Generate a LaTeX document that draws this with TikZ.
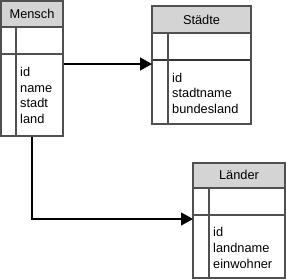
\documentclass[tikz,border=0pt]{standalone}
\usepackage{fontspec}
\setmainfont{Liberation Sans}
\usetikzlibrary{arrows.meta,calc}
\definecolor{bordergray}{HTML}{505050}
\definecolor{headgray}{HTML}{D4D4D4}
\begin{document}
\begin{tikzpicture}[x=1pt,y=-1pt,
  tbl/.style={draw=bordergray, line width=1.2pt, fill=white, anchor=north west, inner sep=0pt},
  hdr/.style={fill=headgray},
  rule/.style={draw=bordergray, line width=1.2pt},
  sep/.style={draw=black!80, line width=1.2pt},
  txt/.style={font=\fontsize{12.8}{15}\selectfont, inner sep=0pt, anchor=base west},
  htxt/.style={font=\fontsize{12.8}{15}\selectfont, inner sep=0pt},
  conn/.style={draw=black, line width=1.5pt, -{Triangle[length=12pt,width=13pt]}}]
\useasboundingbox (0,0) rectangle (286,279);
% Mensch
\node[tbl, minimum width=62pt, minimum height=135pt] (mensch) at (1,1) {};
\fill[hdr] (1,1) rectangle (63,27);
\draw[rule] (1,27) -- (63,27);
\draw[rule] (1,54) -- (63,54);
\draw[rule] (16,27) -- (16,136);
\draw[rule] (1,1) rectangle (63,136);
\node[htxt] (menschT) at (32,14) {Mensch};
\node[txt] (m1) at (20,76.5) {id};
\node[txt] (m2) at (20,92) {name};
\node[txt] (m3) at (20,107.5) {stadt};
\node[txt] (m4) at (20,123) {land};
% Staedte
\node[tbl, minimum width=99pt, minimum height=118pt] (staedte) at (152,6) {};
\fill[hdr] (152,6) rectangle (251,33);
\draw[rule] (152,33) -- (251,33);
\draw[sep] (152,60) -- (251,60);
\draw[rule] (168,33) -- (168,124);
\draw[rule] (152,6) rectangle (251,124);
\node[htxt] (staedteT) at (201.5,20) {Städte};
\node[txt] (s1) at (172,82) {id};
\node[txt] (s2) at (172,97.5) {stadtname};
\node[txt] (s3) at (172,113) {bundesland};
% Laender
\node[tbl, minimum width=92pt, minimum height=115pt] (laender) at (193,163) {};
\fill[hdr] (193,163) rectangle (285,188);
\draw[rule] (193,188) -- (285,188);
\draw[rule] (193,215) -- (285,215);
\draw[rule] (209,188) -- (209,278);
\draw[rule] (193,163) rectangle (285,278);
\node[htxt] (laenderT) at (239,175) {Länder};
\node[txt] (l1) at (213,236) {id};
\node[txt] (l2) at (213,252) {landname};
\node[txt] (l3) at (213,268) {einwohner};
% connectors
\draw[conn] ([yshift=-63pt]mensch.north east) -- ([yshift=-63pt]mensch.north east -| staedte.west);
\draw[conn] ([xshift=31pt]mensch.south west) |- ([yshift=-56pt]laender.north west);
\end{tikzpicture}
\end{document}
